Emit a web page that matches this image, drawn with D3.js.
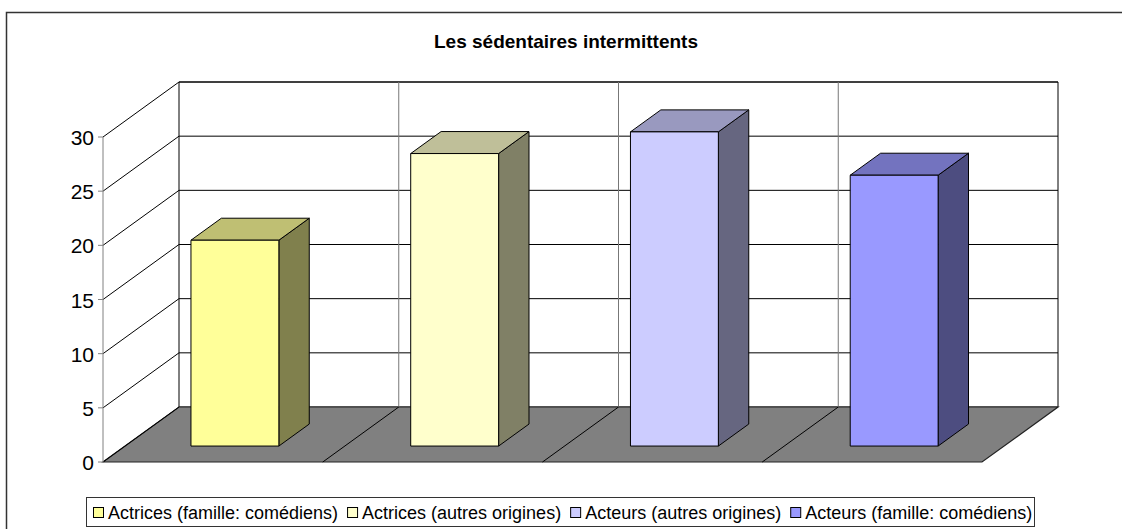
<!DOCTYPE HTML>
<html>
<head>
	<title>Les sédentaires intermittents</title>
	<meta http-equiv="Content-Type" content="text/html; charset=utf-8">
	<script src="https://cdn.jsdelivr.net/npm/d3@7"></script>
	<style type="text/css">
		html, body { margin: 0; overflow: hidden; background-color: #ffffff; }
		svg { display: block; }
		text { font-family: "Liberation Sans", Arial, sans-serif; fill: #000; }
		.title { font-size: 19px; font-weight: bold; text-anchor: middle; }
		.tick  { font-size: 21px; text-anchor: end; }
		.leg   { font-size: 18px; }
	</style>
</head>
<body>
<div id="picture"></div>
<script>
var width  = 1122;
var height = 529;

// data
var categories = ["Actrices (famille: comédiens)", "Actrices (autres origines)",
                  "Acteurs (autres origines)", "Acteurs (famille: comédiens)"];
var values     = [19, 27, 29, 25];
var colors     = ["#ffff99", "#ffffcc", "#ccccff", "#9999ff"];
var yTicks     = [0, 5, 10, 15, 20, 25, 30];

// 3d frame: front plane + depth offset
var DX = 76, DY = -55;
var x = d3.scaleBand().domain(categories).range([103, 982]);
var y = d3.scaleLinear().domain([0, 30]).range([462, 137]);

function P(px, v, d) { return [px + d * DX, y(v) + d * DY]; }
function poly(pts) { return "M" + pts.map(function(p) { return p[0] + "," + p[1]; }).join("L") + "Z"; }

var svg = d3.select("#picture").append("svg")
	.attr("width", width).attr("height", height);

// outer border: only the left and top edges are inside the picture
svg.append("path")
	.attr("d", "M6.5," + height + "V12.5H" + width)
	.attr("fill", "none").attr("stroke", "#333").attr("stroke-width", 1.5);

svg.append("text").attr("class", "title")
	.attr("x", 566).attr("y", 48).text("Les sédentaires intermittents");

var x0 = x.range()[0], x1 = x.range()[1];

// back wall
svg.append("path")
	.attr("d", poly([P(x0, 0, 1), P(x1, 0, 1), P(x1, 30, 1), P(x0, 30, 1)]))
	.attr("fill", "#fff").attr("stroke", "#000");

// floor
svg.append("path")
	.attr("d", poly([P(x0, 0, 0), P(x1, 0, 0), P(x1, 0, 1), P(x0, 0, 1)]))
	.attr("fill", "#808080").attr("stroke", "#222").attr("stroke-width", 1.2);

// gridlines: back wall + left wall diagonals
yTicks.forEach(function(t) {
	var a = P(x0, t, 0), b = P(x0, t, 1), c = P(x1, t, 1);
	if (t > 0)
		svg.append("path").attr("d", "M" + b + "L" + c).attr("stroke", "#000").attr("fill", "none");
	svg.append("path").attr("d", "M" + a + "L" + b).attr("stroke", "#000").attr("fill", "none");
});

// category dividers on back wall and floor
categories.slice(1).forEach(function(c) {
	var px = x(c);
	svg.append("path").attr("d", "M" + P(px, 0, 1) + "L" + P(px, 30, 1))
		.attr("stroke", "#777").attr("fill", "none");
	svg.append("path").attr("d", "M" + P(px, 0, 0) + "L" + P(px, 0, 1))
		.attr("stroke", "#000").attr("fill", "none");
});

// front axis
svg.append("path").attr("d", "M" + P(x0, 0, 0) + "L" + P(x0, 30, 0))
	.attr("stroke", "#808080").attr("fill", "none");
yTicks.forEach(function(t) {
	svg.append("path").attr("d", "M" + (x0 - 5) + "," + y(t) + "L" + x0 + "," + y(t))
		.attr("stroke", "#808080");
	svg.append("text").attr("class", "tick")
		.attr("x", 94).attr("y", y(t) + 8).text(t);
});

// bars
var d0 = 0.29, d1 = 0.69;
var bw = x.bandwidth() * 0.4;
categories.forEach(function(c, i) {
	var l = x(c) + (x.bandwidth() - bw) / 2, r = l + bw, v = values[i];
	var base = d3.color(colors[i]);
	var top  = d3.rgb(base.r * 0.75, base.g * 0.75, base.b * 0.75);
	var side = d3.rgb(base.r * 0.5,  base.g * 0.5,  base.b * 0.5);
	var g = svg.append("g").attr("stroke", "#000").attr("stroke-linejoin", "round");
	g.append("path").attr("fill", side)
		.attr("d", poly([P(r, 0, d0), P(r, 0, d1), P(r, v, d1), P(r, v, d0)]));
	g.append("path").attr("fill", top)
		.attr("d", poly([P(l, v, d0), P(r, v, d0), P(r, v, d1), P(l, v, d1)]));
	g.append("path").attr("fill", colors[i])
		.attr("d", poly([P(l, 0, d0), P(r, 0, d0), P(r, v, d0), P(l, v, d0)]));
});

// legend
svg.append("rect").attr("x", 86.5).attr("y", 497.5).attr("width", 948).attr("height", 29)
	.attr("fill", "#fff").attr("stroke", "#333");
var lx = 93;
categories.forEach(function(c, i) {
	svg.append("rect").attr("x", lx + 0.5).attr("y", 507.5).attr("width", 10).attr("height", 10)
		.attr("fill", colors[i]).attr("stroke", "#000");
	var t = svg.append("text").attr("class", "leg").attr("x", lx + 15).attr("y", 519).text(c);
	lx += 15 + t.node().getComputedTextLength() + 9;
});
</script>
</body>
</html>
